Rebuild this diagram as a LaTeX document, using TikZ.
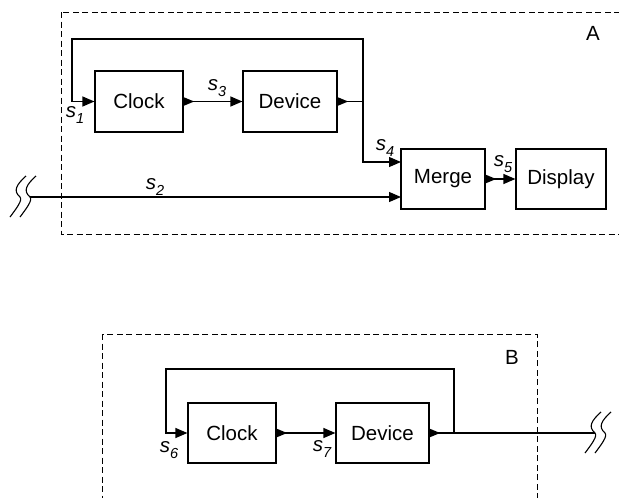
\documentclass[tikz,border=0pt]{standalone}
\usepackage{fontspec}
\setmainfont{Liberation Sans}
\usetikzlibrary{arrows.meta}
\newcommand{\sig}[1]{\textit{s}\raisebox{-0.3em}{\fontsize{14.5}{14.5}\selectfont\itshape #1}}
\newcommand{\outport}[1]{\fill (#1.east) ++(-1.5,-5) -- ++(12,5) -- ++(-12,5) -- cycle;}
\begin{document}
\begin{tikzpicture}[x=1pt,y=-1pt,line width=1.2pt,
  blk/.style={draw, rectangle, minimum height=60pt, inner sep=0pt, font=\fontsize{20.5}{21}\selectfont},
  arr/.style={-{Triangle[length=12pt,width=10pt]}},
  frame/.style={dash pattern=on 6pt off 3.5pt, line width=1pt},
  lbl/.style={font=\fontsize{20.5}{21}\selectfont, inner sep=0pt},
  squig/.pic={\draw[line width=1.1pt] (6,-21) .. controls (-4,-12) and (-7,-6) .. (0,0) .. controls (3,3) and (-4,12) .. (-10,20);}]
\useasboundingbox (0,0) rectangle (619,498);
\clip (0,0) rectangle (619,498);
% frames
\draw[frame] (61,12) rectangle (660,234);
\draw[frame] (102,334) rectangle (537,560);
\node[lbl] (lA) at (593,33) {A};
\node[lbl] (lB) at (512,357) {B};
% system A
\node[blk, minimum width=88pt, minimum height=61pt] (clockA) at (139,101.5) {Clock};
\node[blk, minimum width=94pt, minimum height=61pt] (devA) at (290,101.5) {Device};
\node[blk, minimum width=84pt] (merge) at (443,179) {Merge};
\node[blk, minimum width=90pt] (disp) at (561,179) {Display};
\coordinate (jA) at (363,101.5);
\coordinate (tA) at (72,39);
\coordinate (m1) at (401,162);
\coordinate (m2) at (401,197);
\coordinate (sqA) at (30,197);
\outport{clockA}
\outport{devA}
\outport{merge}
\draw[arr] (clockA) -- (devA);
\draw (devA.east) -- (jA);
\draw[arr] (jA) |- (tA) |- (clockA.west);
\draw[arr] (jA) |- (m1);
\draw[arr] (sqA) -- (m2);
\draw[arr] (merge) -- (disp);
\pic at (sqA) {squig};
\pic at ([xshift=-10pt]sqA) {squig};
\node[lbl] (l1) at (75,115) {\sig{1}};
\node[lbl] (l2) at (155,187) {\sig{2}};
\node[lbl] (l3) at (217,88) {\sig{3}};
\node[lbl] (l4) at (385,148) {\sig{4}};
\node[lbl] (l5) at (503,164) {\sig{5}};
% system B
\node[blk, minimum width=88pt] (clockB) at (232,433) {Clock};
\node[blk, minimum width=93pt] (devB) at (382.5,433) {Device};
\coordinate (jB) at (454,433);
\coordinate (tB) at (166,369);
\coordinate (sqB) at (595,433);
\outport{clockB}
\outport{devB}
\draw[arr] (clockB) -- (devB);
\draw (devB.east) -- (sqB);
\draw[arr] (jB) |- (tB) |- (clockB.west);
\pic at (sqB) {squig};
\pic at ([xshift=10pt]sqB) {squig};
\node[lbl] (l6) at (169,450) {\sig{6}};
\node[lbl] (l7) at (322,449) {\sig{7}};
\end{tikzpicture}
\end{document}
